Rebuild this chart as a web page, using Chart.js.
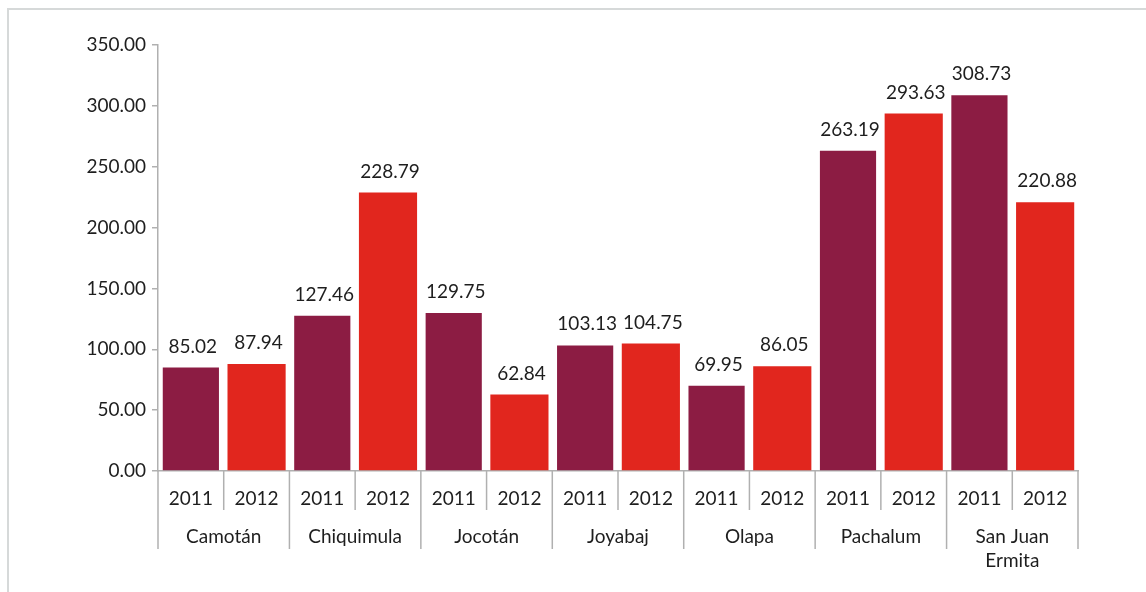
<!DOCTYPE html>
<html>
<head>
<meta charset="utf-8">
<script src="https://cdn.jsdelivr.net/npm/chart.js@4/dist/chart.umd.min.js"></script>
<style>
  html, body { margin:0; padding:0; background:#fff; overflow:hidden; }
  #frame { position:absolute; left:7px; top:8px; width:1200px; height:700px;
           border-left:2px solid #d6d9d9; border-top:2px solid #d6d9d9; }
  #wrap { position:absolute; left:0; top:0; width:1146px; height:592px; }
</style>
</head>
<body>
<div id="frame"></div>
<div id="wrap"><canvas id="c"></canvas></div>
<script>
// Data
const municipalities = ["Camotán", "Chiquimula", "Jocotán", "Joyabaj", "Olapa", "Pachalum", ["San Juan", "Ermita"]];
const years = ["2011", "2012"];
const values2011 = [85.02, 127.46, 129.75, 103.13, 69.95, 263.19, 308.73];
const values2012 = [87.94, 228.79, 62.84, 104.75, 86.05, 293.63, 220.88];
const yTicks = [0, 50, 100, 150, 200, 250, 300, 350];

const FONT = "Lato, 'Noto Sans', sans-serif";
const TEXT = "#1e1e1e";
const AXIS = "#b0b0b0";

// one slot per bar: 2011, 2012 for each municipality
const labels = municipalities.flatMap(() => years);
const d2011 = municipalities.flatMap((_, i) => [values2011[i], null]);
const d2012 = municipalities.flatMap((_, i) => [null, values2012[i]]);

const groupPlugin = {
    id: "groups",
    afterDraw(chart) {
        const { ctx, chartArea } = chart;
        const x = chart.scales.x;
        const half = (x.getPixelForValue(1) - x.getPixelForValue(0)) / 2;
        const bottom = chartArea.bottom;
        ctx.save();
        ctx.strokeStyle = AXIS;
        ctx.lineWidth = 1.5;
        municipalities.forEach((m, i) => {
            const p0 = x.getPixelForValue(2 * i);
            const p1 = x.getPixelForValue(2 * i + 1);
            // long divider at group start
            ctx.beginPath(); ctx.moveTo(p0 - half, bottom); ctx.lineTo(p0 - half, bottom + 78); ctx.stroke();
            // short divider between years
            ctx.beginPath(); ctx.moveTo(p0 + half, bottom); ctx.lineTo(p0 + half, bottom + 39); ctx.stroke();
            if (i === municipalities.length - 1) {
                ctx.beginPath(); ctx.moveTo(p1 + half, bottom); ctx.lineTo(p1 + half, bottom + 78); ctx.stroke();
            }
            // group label
            ctx.fillStyle = TEXT;
            ctx.font = "19px " + FONT;
            ctx.textAlign = "center";
            ctx.textBaseline = "alphabetic";
            const lines = Array.isArray(m) ? m : [m];
            lines.forEach((ln, k) => ctx.fillText(ln, (p0 + p1) / 2, bottom + 72 + k * 24));
        });
        // value labels
        ctx.fillStyle = TEXT;
        ctx.font = "19px " + FONT;
        chart.data.datasets.forEach((ds, di) => {
            chart.getDatasetMeta(di).data.forEach((bar, j) => {
                const v = ds.data[j];
                if (v == null) return;
                ctx.fillText(v.toFixed(2), bar.x + 2, bar.y - 15);
            });
        });
        ctx.restore();
    }
};

new Chart(document.getElementById("c"), {
    type: "bar",
    data: {
        labels,
        datasets: [
            { label: "2011", data: d2011, backgroundColor: "#8c1c43", barPercentage: 0.855, categoryPercentage: 1, grouped: false, skipNull: true },
            { label: "2012", data: d2012, backgroundColor: "#e1261e", barPercentage: 0.885, categoryPercentage: 1, grouped: false, skipNull: true }
        ]
    },
    options: {
        responsive: true, maintainAspectRatio: false, animation: false,
        layout: { padding: { left: 0, top: 45, right: 68, bottom: 0 } },
        plugins: { legend: { display: false }, tooltip: { enabled: false } },
        scales: {
            x: {
                grid: { display: false },
                border: { display: true, color: AXIS, width: 1.5 },
                ticks: { color: TEXT, font: { family: FONT, size: 19 }, padding: 8, maxRotation: 0, autoSkip: false },
                afterFit: s => { s.height = 592 - 471; }
            },
            y: {
                min: 0, max: 350,
                afterBuildTicks: s => { s.ticks = yTicks.map(v => ({ value: v })); },
                grid: { display: true, drawOnChartArea: false, drawTicks: true, tickLength: 6, color: AXIS, lineWidth: 1.5 },
                border: { display: true, color: AXIS, width: 1.5 },
                ticks: { color: TEXT, font: { family: FONT, size: 19 }, padding: 6, callback: v => Number(v).toFixed(2) },
                afterFit: s => { s.width = 158; }
            }
        }
    },
    plugins: [groupPlugin]
});
</script>
</body>
</html>
